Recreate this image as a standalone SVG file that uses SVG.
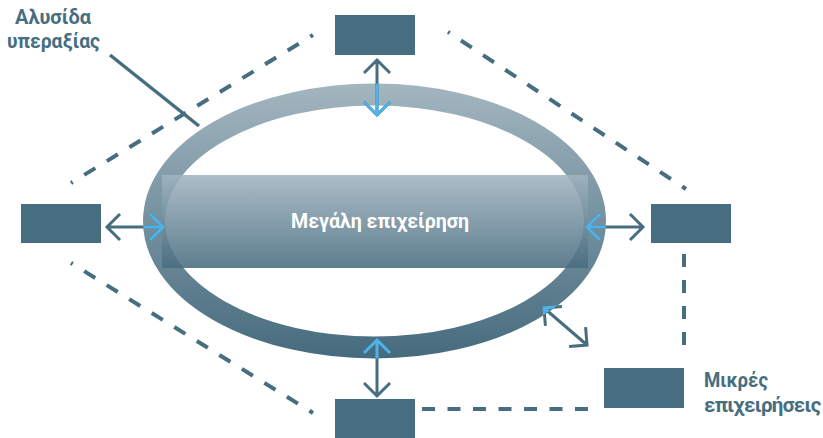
<svg xmlns="http://www.w3.org/2000/svg" xmlns:xlink="http://www.w3.org/1999/xlink" width="823" height="438" viewBox="0 0 823 438">
  <style>
    .box { fill: #466e80; }
    .dash { fill: none; stroke: #466e80; stroke-width: 4; }
    .label { fill: #466e80; font-family: Roboto, "Noto Sans", sans-serif; font-weight: 700; font-size: 20.5px; }
    .title { fill: #ffffff; font-family: Roboto, "Noto Sans", sans-serif; font-weight: 700; font-size: 20px; }
    .arrows { fill: none; stroke-width: 3; stroke-linecap: butt; stroke-linejoin: miter; }
  </style>
  <defs>
    <linearGradient id="ringGrad" gradientUnits="userSpaceOnUse" x1="0" y1="84" x2="0" y2="358">
      <stop offset="0" stop-color="#a3b6c0"/>
      <stop offset="1" stop-color="#466b7e"/>
    </linearGradient>
    <linearGradient id="coreGrad" gradientUnits="userSpaceOnUse" x1="0" y1="175" x2="0" y2="268">
      <stop offset="0" stop-color="#a0b4bf"/>
      <stop offset="1" stop-color="#486c7f"/>
    </linearGradient>
    <clipPath id="insideRing">
      <ellipse cx="374.5" cy="221" rx="231.5" ry="137.5"/>
    </clipPath>
    <!-- double-headed arrows between the core and the surrounding boxes -->
    <g id="arrowSet">
      <path d="M377 60 V115 M364 73 L377 60 L390 73 M364 102 L377 115 L390 102"/>
      <path d="M377 340 V396 M364 353 L377 340 L390 353 M364 383 L377 396 L390 383"/>
      <path d="M107 227 H163 M120 214 L107 227 L120 240 M150 214 L163 227 L150 240"/>
      <path d="M587 227 H643 M600 214 L587 227 L600 240 M630 214 L643 227 L630 240"/>
      <path d="M544 308 L587 345 M545.4 325.9 L544 308 L561.9 306.6 M585.6 327.1 L587 345 L569.1 346.4"/>
    </g>
  </defs>

  <!-- value chain ring and central enterprise -->
  <g id="ring">
    <ellipse cx="374.5" cy="221" rx="220.5" ry="126.5" fill="none" stroke="url(#ringGrad)" stroke-width="22"/>
  </g>
  <g id="core">
    <rect x="162" y="175" width="426" height="93" fill="url(#coreGrad)" fill-opacity="0.88"/>
    <text class="title" x="380" y="228" text-anchor="middle" textLength="178" lengthAdjust="spacingAndGlyphs">Μεγάλη επιχείρηση</text>
  </g>

  <!-- dashed links between the partner boxes -->
  <g id="connectors">
    <line class="dash" x1="71" y1="183" x2="313" y2="35" stroke-dasharray="13 13.5" stroke-dashoffset="11"/>
    <line class="dash" x1="448" y1="32" x2="686" y2="189" stroke-dasharray="13 13.5" stroke-dashoffset="11"/>
    <line class="dash" x1="71" y1="263" x2="313" y2="413" stroke-dasharray="13 13.5" stroke-dashoffset="11"/>
    <line class="dash" x1="684" y1="254" x2="684" y2="345" stroke-dasharray="13 13"/>
    <line class="dash" x1="422" y1="409" x2="589" y2="409" stroke-dasharray="13 12.5"/>
    <line x1="110" y1="55" x2="199" y2="126" stroke="#466e80" stroke-width="3.5"/>
    <use xlink:href="#arrowSet" class="arrows" stroke="#466e80"/>
    <use xlink:href="#arrowSet" class="arrows" stroke="#4fb3ea" clip-path="url(#insideRing)"/>
  </g>

  <g id="box-top"><rect class="box" x="335" y="15" width="80" height="40"/></g>
  <g id="box-left"><rect class="box" x="21" y="204" width="80" height="39"/></g>
  <g id="box-right"><rect class="box" x="651" y="204" width="80" height="39"/></g>
  <g id="box-bottom"><rect class="box" x="335" y="399" width="80" height="39"/></g>
  <g id="box-small">
    <rect class="box" x="604" y="368" width="80" height="40"/>
    <text class="label" x="704" y="387" textLength="64" lengthAdjust="spacingAndGlyphs">Μικρές</text>
    <text class="label" x="704" y="412" letter-spacing="-0.65">επιχειρήσεις</text>
  </g>

  <g id="chain-label">
    <text class="label" x="53" y="24" text-anchor="middle" textLength="76" lengthAdjust="spacingAndGlyphs">Αλυσίδα</text>
    <text class="label" x="53.5" y="48" text-anchor="middle" textLength="93" lengthAdjust="spacingAndGlyphs">υπεραξίας</text>
  </g>
</svg>
